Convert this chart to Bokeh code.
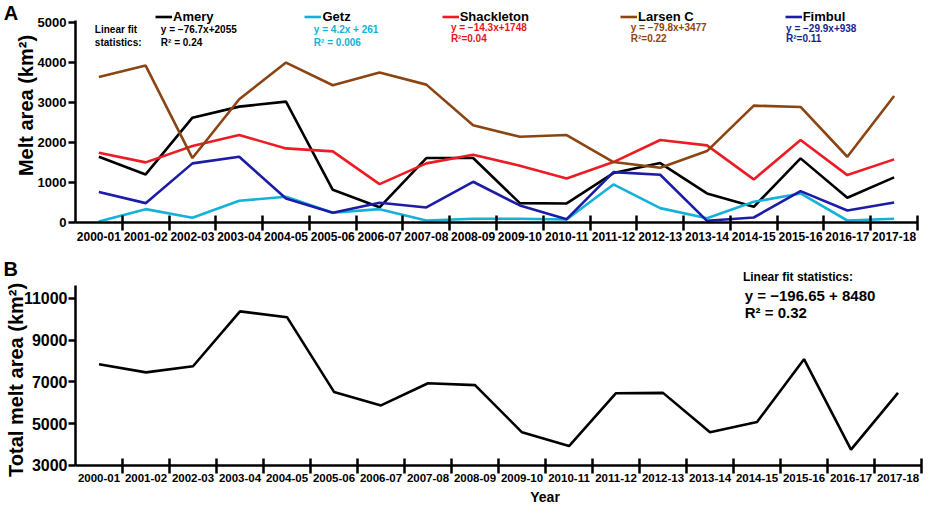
import math
from bokeh.plotting import figure
from bokeh.layouts import column
from bokeh.models import Range1d, FixedTicker, Label
from bokeh.embed import file_html
from bokeh.resources import INLINE

# ---------------- data ----------------
years = ["2000-01", "2001-02", "2002-03", "2003-04", "2004-05", "2005-06",
         "2006-07", "2007-08", "2008-09", "2009-10", "2010-11", "2011-12",
         "2012-13", "2013-14", "2014-15", "2015-16", "2016-17", "2017-18"]

amery = [1644, 1202, 2621, 2897, 3022, 818, 380, 1611, 1611, 484, 476, 1236,
         1486, 726, 392, 1603, 618, 1127]
getz = [25, 334, 117, 543, 643, 242, 334, 50, 92, 92, 75, 952,
        359, 108, 518, 726, 50, 92]
shackleton = [1745, 1503, 1912, 2187, 1853, 1778, 960, 1478, 1694, 1419, 1102,
              1511, 2062, 1928, 1077, 2062, 1185, 1578]
larsen_c = [3639, 3923, 1611, 3080, 3998, 3431, 3748, 3447, 2429, 2145, 2187,
            1511, 1369, 1786, 2921, 2888, 1644, 3164]
fimbul = [760, 484, 1478, 1644, 601, 242, 492, 376, 1018, 426, 83, 1260,
          1194, 42, 125, 785, 300, 501]

total = [7838, 7454, 7746, 10373, 10096, 6517, 5872, 6932, 6840, 4582, 3922,
         6456, 6471, 4582, 5074, 8084, 3753, 6471]

series_names = ["Amery", "Getz", "Shackleton", "Larsen C", "Fimbul"]
series_values = [amery, getz, shackleton, larsen_c, fimbul]
series_colors = ["#000000", "#14b1d9", "#ec1c24", "#8b4513", "#1c1ca6"]
stat_colors = ["#000000", "#14b1d9", "#e8141c", "#8b4513", "#1a2490"]
fit_eq = ["y = \u221276.7x+2055", "y = 4.2x + 261", "y = \u221214.3x+1748",
          "y = \u221279.8x+3477", "y = \u221229.9x+938"]
fit_r2 = ["R\u00b2 = 0.24", "R\u00b2 = 0.006", "R\u00b2=0.04", "R\u00b2=0.22", "R\u00b2=0.11"]

y1_ticks = [0, 1000, 2000, 3000, 4000, 5000]
y2_ticks = [3000, 5000, 7000, 9000, 11000]

FONT = "Liberation Sans"
idx = list(range(len(years)))
x_lo, x_hi = -0.5, len(years) - 0.5


def style_x(ax, size, standoff, y_at):
    ax.fixed_location = y_at
    ax.bounds = (x_lo, x_hi)
    ax.ticker = FixedTicker(ticks=idx, minor_ticks=[i + 0.5 for i in idx])
    ax.major_label_overrides = {i: y for i, y in enumerate(years)}
    ax.major_tick_in = 0
    ax.major_tick_out = 0
    ax.minor_tick_in = 7
    ax.minor_tick_out = 8
    ax.minor_tick_line_width = 2.5
    ax.minor_tick_line_color = "black"
    ax.axis_line_width = 2.5
    ax.axis_line_color = "black"
    ax.major_label_text_font = FONT
    ax.major_label_text_font_style = "bold"
    ax.major_label_text_font_size = f"{size}px"
    ax.major_label_text_color = "black"
    ax.major_label_standoff = standoff


def style_y(ax, ticks, bounds, size, standoff):
    ax.fixed_location = x_lo
    ax.bounds = bounds
    ax.ticker = FixedTicker(ticks=ticks)
    ax.major_tick_in = 0
    ax.major_tick_out = 7
    ax.major_tick_line_width = 2.5
    ax.major_tick_line_color = "black"
    ax.minor_tick_in = 0
    ax.minor_tick_out = 0
    ax.axis_line_width = 2.5
    ax.axis_line_color = "black"
    ax.major_label_text_font = FONT
    ax.major_label_text_font_style = "bold"
    ax.major_label_text_font_size = f"{size}px"
    ax.major_label_text_color = "black"
    ax.major_label_standoff = standoff


def label(p, x, y, text, size, color="black", align="left", angle=0.0):
    p.add_layout(Label(x=x, y=y, text=text, text_font=FONT, text_font_style="bold",
                       text_font_size=f"{size}px", text_color=color,
                       text_align=align, text_baseline="middle", angle=angle))


def make_fig(h, xr, yr):
    p = figure(width=925, height=h, output_backend="svg", toolbar_location=None,
               title=None, x_range=xr, y_range=yr, min_border=0)
    p.outline_line_color = None
    p.xgrid.visible = False
    p.ygrid.visible = False
    return p


# ---------------- panel A ----------------
p1 = make_fig(245, Range1d(-2.103, 17.671), Range1d(-575, 5550))
style_x(p1.xaxis[0], 12, 1, 0)
style_y(p1.yaxis[0], y1_ticks, (0, 5050), 13, 2)

for name, vals, col in zip(series_names, series_values, series_colors):
    p1.line(idx, vals, line_color=col, line_width=2.6, legend_label=name)

lg = p1.legend[0]
lg.location = (155, 221)
lg.orientation = "horizontal"
lg.spacing = 91
lg.glyph_width = 17
lg.glyph_height = 13
lg.label_standoff = 1
lg.label_height = 13
lg.padding = 0
lg.margin = 0
lg.border_line_color = None
lg.background_fill_alpha = 0
lg.label_text_font = FONT
lg.label_text_font_style = "bold"
lg.label_text_font_size = "13px"
lg.label_text_color = "black"

stat_x = [1.325, 4.596, 7.525, 11.37, 14.69]
stat_y1 = [4825, 4825, 4875, 4875, 4850]
stat_y2 = [4500, 4500, 4600, 4600, 4600]
for x, ya, yb, eq, r2, col in zip(stat_x, stat_y1, stat_y2, fit_eq, fit_r2, stat_colors):
    label(p1, x, ya, eq, 10, col)
    label(p1, x, yb, r2, 10, col)
label(p1, -0.086, 4825, "Linear fit", 10)
label(p1, -0.086, 4500, "statistics:", 10)
label(p1, -1.88, 5240, "A", 20, align="center")
label(p1, -1.56, 2925, "Melt area (km\u00b2)", 20, align="center", angle=math.pi / 2)

# ---------------- panel B ----------------
p2 = make_fig(260, Range1d(-2.096, 17.585), Range1d(1077, 13529))
style_x(p2.xaxis[0], 11.5, 1, 3000)
style_y(p2.yaxis[0], y2_ticks, (3000, 11600), 16, 1)

p2.line(idx, total, line_color="black", line_width=2.6)

label(p2, 13.70, 12012, "Linear fit statistics:", 12)
label(p2, 13.74, 11138, "y = \u2212196.65 + 8480", 15)
label(p2, 13.74, 10310, "R\u00b2 = 0.32", 15)
label(p2, -1.88, 12425, "B", 20, align="center")
label(p2, -1.775, 7092, "Total melt area (km\u00b2)", 20, align="center", angle=math.pi / 2)
label(p2, 9.49, 1508, "Year", 14, align="center")

layout = column(p1, p2, spacing=0)
open("out.html", "w").write(file_html(layout, INLINE))
